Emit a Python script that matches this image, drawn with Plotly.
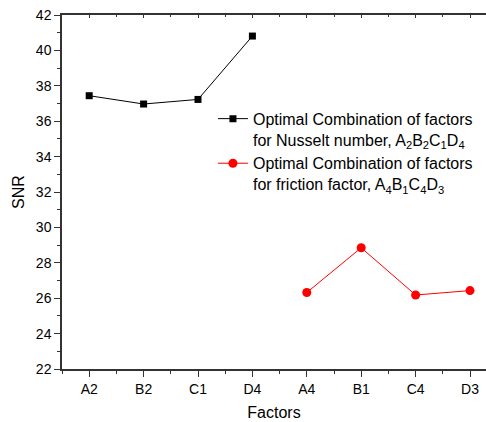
import plotly.graph_objects as go

categories = ["A2", "B2", "C1", "D4", "A4", "B1", "C4", "D3"]
nusselt_x = ["A2", "B2", "C1", "D4"]
nusselt_snr = [37.44, 36.97, 37.23, 40.81]
friction_x = ["A4", "B1", "C4", "D3"]
friction_snr = [26.32, 28.85, 26.18, 26.43]

name_nu = "Optimal Combination of factors<br>for Nusselt number, A<sub>2</sub>B<sub>2</sub>C<sub>1</sub>D<sub>4</sub>"
name_f = "Optimal Combination of factors<br>for friction factor, A<sub>4</sub>B<sub>1</sub>C<sub>4</sub>D<sub>3</sub>"

idx = {c: i for i, c in enumerate(categories)}
FONT = "Arial, Liberation Sans, sans-serif"
AX = "#333333"

fig = go.Figure()
fig.add_trace(go.Scatter(
    x=[idx[c] for c in nusselt_x], y=nusselt_snr, mode="lines+markers", name=name_nu,
    line=dict(color="black", width=1),
    marker=dict(symbol="square", size=7, color="black"),
))
fig.add_trace(go.Scatter(
    x=[idx[c] for c in friction_x], y=friction_snr, mode="lines+markers", name=name_f,
    line=dict(color="red", width=1),
    marker=dict(symbol="circle", size=9, color="red"),
))
# invisible trace to carry top axis
fig.add_trace(go.Scatter(x=[0], y=[30], xaxis="x2", mode="markers",
                         marker=dict(opacity=0), showlegend=False, hoverinfo="skip"))

fig.update_layout(
    width=486, height=422,
    margin=dict(l=62, r=0, t=15, b=53),
    paper_bgcolor="white", plot_bgcolor="white",
    font=dict(family=FONT, color="black", size=14),
    showlegend=True,
    legend=dict(
        x=0.356, y=0.755, xanchor="left", yanchor="top",
        font=dict(family=FONT, size=16, color="black"),
        bgcolor="rgba(0,0,0,0)", valign="top", tracegroupgap=2,
    ),
    xaxis=dict(
        range=[-0.5, 7.294], tickmode="array",
        tickvals=list(range(len(categories))), ticktext=categories,
        showline=True, linecolor=AX, linewidth=1.5,
        ticks="outside", ticklen=6, tickcolor=AX, tickwidth=1,
        minor=dict(tickmode="array", tickvals=[i + 0.5 for i in range(-1, len(categories))],
                   ticks="outside", ticklen=3, tickcolor=AX),
        showgrid=False, zeroline=False,
        tickfont=dict(size=14),
        title=dict(text="Factors", font=dict(size=16), standoff=11),
    ),
    xaxis2=dict(
        overlaying="x", matches="x", side="top", anchor="y",
        showline=True, linecolor=AX, linewidth=1.5,
        ticks="inside", ticklen=3, tickcolor=AX,
        tickvals=list(range(len(categories))), showticklabels=False,
        minor=dict(tickmode="array", tickvals=[i + 0.5 for i in range(-1, len(categories))],
                   ticks="inside", ticklen=2, tickcolor=AX),
        showgrid=False, zeroline=False,
    ),
    yaxis=dict(
        range=[22, 42], dtick=2, tick0=22,
        showline=True, linecolor=AX, linewidth=1.5, mirror=False,
        ticks="outside", ticklen=6, tickcolor=AX,
        minor=dict(dtick=1, ticks="outside", ticklen=3, tickcolor=AX),
        showgrid=False, zeroline=False,
        tickfont=dict(size=14),
        title=dict(text="SNR", font=dict(size=16), standoff=7),
    ),
)

fig.write_html("out.html")
